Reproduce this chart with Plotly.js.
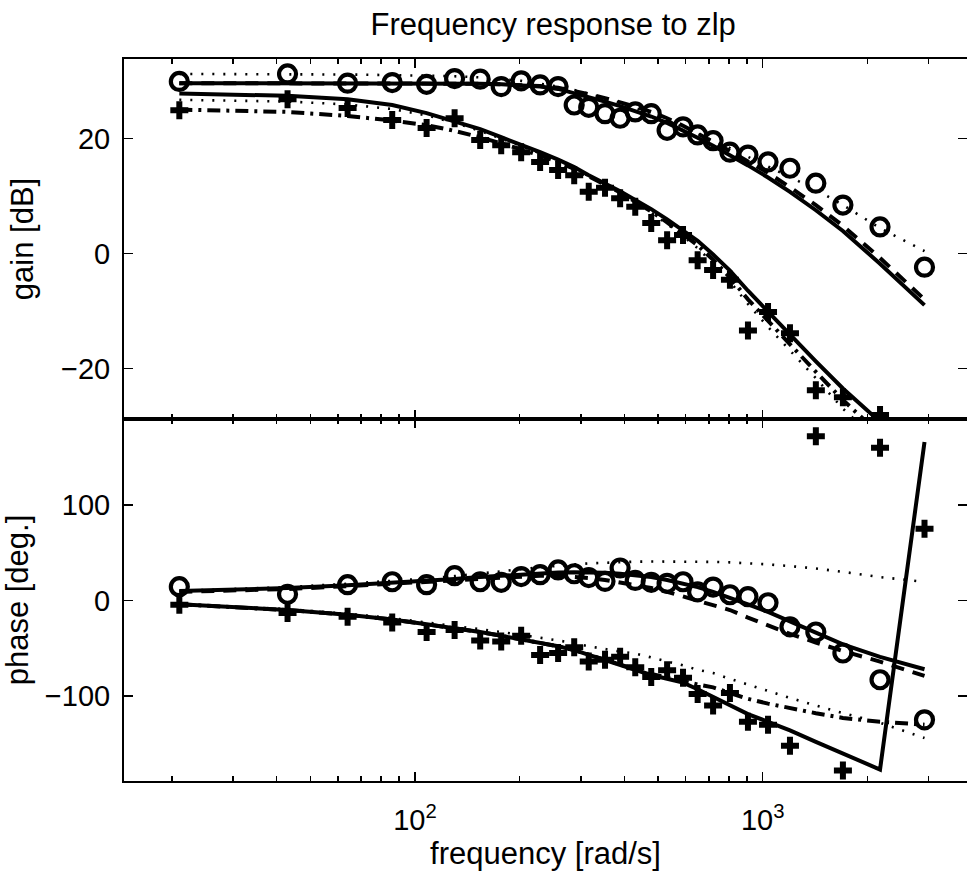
<!DOCTYPE html>
<html>
<head>
<meta charset="utf-8">
<script src="https://cdn.plot.ly/plotly-3.0.1.min.js"></script>
<style>
  html, body { margin: 0; padding: 0; background: #fff; }
  #chart { width: 967px; height: 877px; }
</style>
</head>
<body>
<div id="chart"></div>
<script>
// Frequencies [rad/s] of the measured points (shared by both panels)
const freq = [21, 43, 64, 86, 108, 130, 154, 177, 202, 229, 258, 287, 316, 352, 389, 430, 478, 531, 590, 650, 720, 805, 907, 1036, 1198, 1422, 1701, 2175, 2920];

// Gain [dB] – measured
const gainCirc = [29.9, 31.2, 29.6, 29.7, 29.4, 30.4, 30.3, 29.0, 30.0, 29.3, 29.0, 25.8, 25.4, 24.3, 23.5, 24.6, 24.3, 21.4, 22.0, 20.6, 19.6, 17.6, 17.1, 15.9, 14.8, 12.2, 8.4, 4.6, -2.4];
const gainPlus = [24.9, 26.8, 25.3, 23.2, 21.8, 23.5, 19.7, 18.8, 17.6, 15.9, 14.5, 13.6, 10.7, 11.4, 9.6, 8.1, 5.3, 2.3, 3.2, -1.2, -2.9, -4.6, -13.4, -10.2, -13.9, -23.8, -25.0, -28.1, -34.0];

// Gain [dB] – model curves
const gainCircSolid = [29.6, 29.6, 29.6, 29.6, 29.6, 29.5, 29.5, 29.4, 29.2, 29.0, 28.6, 27.9, 27.2, 26.4, 25.6, 24.8, 23.8, 22.7, 21.4, 20.1, 18.7, 17.1, 15.3, 13.2, 10.7, 7.5, 3.9, -1.8, -9.0];
const gainCircDash  = [29.6, 29.6, 29.6, 29.6, 29.6, 29.5, 29.5, 29.4, 29.3, 29.1, 28.8, 28.3, 27.7, 27.0, 26.3, 25.5, 24.6, 23.5, 22.2, 20.9, 19.4, 17.8, 16.0, 14.0, 11.5, 8.4, 4.8, -0.8, -8.0];
const gainCircDot   = [31.2, 31.2, 31.1, 31.0, 30.9, 30.8, 30.6, 30.3, 30.0, 29.5, 29.0, 28.4, 27.8, 27.0, 26.2, 25.3, 24.3, 23.2, 22.0, 20.9, 19.6, 18.3, 16.8, 15.2, 13.4, 11.1, 8.4, 4.4, 0.4];
const gainPlusSolid   = [27.8, 27.4, 26.8, 25.8, 24.4, 23.0, 21.6, 20.2, 18.9, 17.6, 16.3, 15.0, 13.6, 12.2, 10.8, 9.3, 7.7, 5.9, 4.0, 2.2, -0.2, -3.0, -6.5, -10.2, -14.0, -18.8, -23.5, -29.3, -37.0];
const gainPlusDashDot = [25.0, 24.6, 23.9, 23.1, 22.3, 21.3, 20.2, 19.2, 18.1, 17.0, 15.9, 14.7, 13.4, 12.0, 10.6, 9.0, 7.3, 5.4, 3.4, 1.4, -1.1, -4.2, -8.0, -11.8, -15.9, -20.6, -25.5, -31.5, -39.5];
const gainPlusDot     = [26.7, 26.4, 25.9, 25.1, 24.0, 22.7, 21.3, 20.0, 18.7, 17.4, 16.1, 14.8, 13.4, 12.0, 10.5, 8.9, 7.1, 5.1, 3.0, 0.9, -1.7, -4.9, -8.8, -12.8, -16.9, -21.7, -27.0, -33.0, -41.0];

// Phase [deg.] – measured
const phaseCirc = [14.4, 6.5, 16.5, 19.6, 16.5, 26.0, 19.6, 19.0, 25.0, 27.0, 32.0, 28.0, 24.0, 20.0, 34.0, 21.0, 19.0, 18.0, 19.6, 9.0, 14.0, 6.0, 4.0, -2.4, -27.6, -33.0, -55.0, -83.0, -125.0];
const phasePlus = [-4.5, -13, -17, -23, -33, -31, -42, -43, -37, -57, -55, -49, -64, -62, -59, -70, -80, -73, -81, -98, -110, -97, -127, -130, -152, 172, -178, 160, 75];

// Phase [deg.] – model curves
const phaseCircSolid = [10, 13, 16, 18.5, 20.5, 22.5, 24.5, 26, 27.5, 28.5, 29.2, 29.5, 29.5, 29, 28, 26.5, 24.5, 21.5, 18, 14, 9, 3, -4, -12, -22, -34, -46, -59, -72];
const phaseCircDash  = [9, 12, 15, 17.5, 19.5, 21.5, 23, 24.5, 25.5, 26, 26, 25, 23.5, 21.5, 19, 16, 13, 9, 4, 0, -4.5, -10, -18, -26, -35, -44, -53, -64, -79];
const phaseCircDot   = [10, 14, 17.5, 20.5, 23, 25.5, 28, 30.5, 32.8, 34.8, 36.5, 37.8, 38.8, 39.6, 40.2, 40.6, 40.8, 40.9, 40.9, 40.7, 40.4, 39.9, 39, 37.8, 36, 33.5, 30, 24.5, 19.5];
const phasePlusSolid   = [-4, -10, -15, -20, -25, -29, -33, -37, -40.5, -44, -48, -52, -57, -62, -67, -72, -78, -82, -86, -93, -101, -110, -119, -127, -136, -148, -160, -177, 166];
const phasePlusDashDot = [-4, -10, -15, -20, -25, -29, -33, -37, -40.5, -44, -48, -52, -57, -62, -67, -72, -77, -81, -85, -88, -91, -97, -103, -108, -113, -118, -123, -127, -130];
const phasePlusDot     = [-4, -9, -14, -18.5, -23, -26.5, -30, -33, -36, -39, -41.5, -44.5, -48, -51, -53.5, -55.5, -59.5, -64, -68, -72.5, -76, -82, -88, -95, -102, -110, -118, -128, -144];

// Axis tick labels
const xTickVals = [100, 1000];
const xTickText = ['10<sup>2</sup>', '10<sup>3</sup>'];
const xMinorVals = [20, 30, 40, 50, 60, 70, 80, 90, 200, 300, 400, 500, 600, 700, 800, 900, 2000, 3000];
const gainTicks = [-20, 0, 20];
const phaseTicks = [-100, 0, 100];

const BLK = '#000';
const SOLID = {color: BLK, width: 4, dash: 'solid'};
const DASH  = {color: BLK, width: 4, dash: '13px,9px'};
const DOT   = {color: BLK, width: 2.6, dash: '2px,9px'};
const DASHDOT = {color: BLK, width: 4, dash: '13px,6px,3px,6px'};

function line(y, ax, style) {
  return {x: freq, y: y, xaxis: ax === 'y2' ? 'x2' : 'x', yaxis: ax, mode: 'lines',
          line: style, hoverinfo: 'skip', showlegend: false};
}
function circ(y, ax) {
  return {x: freq, y: y, xaxis: ax === 'y2' ? 'x2' : 'x', yaxis: ax, mode: 'markers',
          marker: {symbol: 'circle-open', size: 17, color: BLK, line: {color: BLK, width: 4.2}},
          showlegend: false};
}
function plus(y, ax) {
  return {x: freq, y: y, xaxis: ax === 'y2' ? 'x2' : 'x', yaxis: ax, mode: 'markers',
          marker: {symbol: 'cross', size: 15, color: BLK, line: {width: 0}},
          showlegend: false};
}

const data = [
  line(gainCircDot, 'y2', DOT),
  line(gainCircDash, 'y2', DASH),
  line(gainCircSolid, 'y2', SOLID),
  line(gainPlusDot, 'y2', DOT),
  line(gainPlusDashDot, 'y2', DASHDOT),
  line(gainPlusSolid, 'y2', SOLID),
  line(phaseCircDot, 'y', DOT),
  line(phaseCircDash, 'y', DASH),
  line(phaseCircSolid, 'y', SOLID),
  line(phasePlusDot, 'y', DOT),
  line(phasePlusDashDot, 'y', DASHDOT),
  line(phasePlusSolid, 'y', SOLID),
  circ(gainCirc, 'y2'),
  plus(gainPlus, 'y2'),
  circ(phaseCirc, 'y'),
  plus(phasePlus, 'y')
];

const FONT = 'Liberation Sans, Arial, Helvetica, sans-serif';
const xBase = {
  type: 'log', range: [1.1631, 3.5876], domain: [0, 1],
  showline: true, linecolor: BLK, linewidth: 2, mirror: 'ticks',
  ticks: 'inside', ticklen: 9, tickwidth: 1.6, tickcolor: BLK,
  tickvals: xTickVals, ticktext: xTickText,
  minor: {tickvals: xMinorVals, ticks: 'inside', ticklen: 5, tickwidth: 1.6, tickcolor: BLK, showgrid: false},
  showgrid: false, zeroline: false, fixedrange: true,
  tickfont: {family: FONT, size: 29, color: BLK}
};
const yBase = {
  showline: true, linecolor: BLK, linewidth: 2, mirror: 'ticks',
  ticks: 'inside', ticklen: 9, tickwidth: 1.6, tickcolor: BLK,
  showgrid: false, zeroline: false, fixedrange: true,
  tickfont: {family: FONT, size: 29, color: BLK},
  ticklabelstandoff: 6
};

const layout = {
  width: 967, height: 877,
  margin: {l: 124, r: 0, t: 59, b: 96, pad: 0},
  paper_bgcolor: '#fff', plot_bgcolor: '#fff',
  showlegend: false,
  font: {family: FONT, color: BLK},
  title: {text: 'Frequency response to zlp', font: {family: FONT, size: 31, color: BLK},
          x: 0.572, xanchor: 'center', xref: 'container', y: 0.972, yanchor: 'middle', yref: 'container'},
  xaxis: Object.assign({}, xBase, {anchor: 'y', ticklabelstandoff: 12,
          title: {text: 'frequency [rad/s]', font: {family: FONT, size: 31, color: BLK}, standoff: 2}}),
  xaxis2: Object.assign({}, xBase, {anchor: 'y2', matches: 'x', showticklabels: false}),
  yaxis: Object.assign({}, yBase, {domain: [0, 0.5014], range: [-189, 190], tickvals: phaseTicks,
          title: {text: 'phase [deg.]', font: {family: FONT, size: 31, color: BLK}, standoff: 18}}),
  yaxis2: Object.assign({}, yBase, {domain: [0.5014, 1], range: [-28.8, 33.8], tickvals: gainTicks,
          title: {text: 'gain [dB]', font: {family: FONT, size: 31, color: BLK}, standoff: 18}})
};

Plotly.newPlot('chart', data, layout, {displayModeBar: false, staticPlot: true});
</script>
</body>
</html>
